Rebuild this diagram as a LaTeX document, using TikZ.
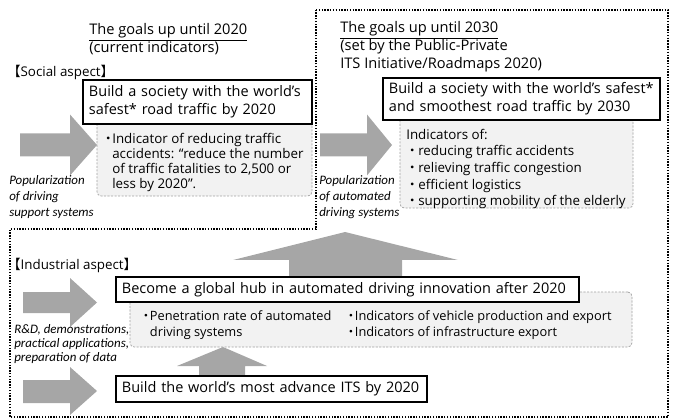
\documentclass[tikz,border=0pt]{standalone}
\usepackage{fontspec}
\setmainfont{Open Sans}
\newfontfamily\cjk{Noto Sans CJK JP}
\newfontfamily\narrowit{Carlito}
\usepackage{tikz}
\usetikzlibrary{fit}

\definecolor{arrowgray}{HTML}{A6A6A6}
\definecolor{panelgray}{HTML}{F2F2F2}
\definecolor{panelline}{HTML}{A0A0A0}

% bullet dots of the indicator lists
\newcommand{\dotmark}{\makebox[0.6em]{\cjk ・}}
\newcommand{\dotpad}{\makebox[0.6em]{}}
\newcommand{\widedot}{\makebox[0.9em]{\cjk ・}}

\begin{document}
\begin{tikzpicture}[
    x=0.025cm, y=-0.025cm,
    goal/.style={draw, line width=0.8pt, fill=white, align=left,
                 inner xsep=0.15cm, inner ysep=0pt,
                 font=\fontsize{10.3}{12.8}\selectfont},
    panel/.style={draw=panelline, fill=panelgray, line width=0.5pt,
                  dash pattern=on 1.5pt off 1pt, rounded corners=3pt, inner sep=0pt},
    paneltxt/.style={anchor=north west, align=left, inner sep=0pt,
                     font=\fontsize{9.5}{10.7}\selectfont},
    heading/.style={anchor=north west, align=left, inner sep=0pt,
                    font=\fontsize{10.4}{13}\selectfont},
    note/.style={anchor=north west, align=left, inner sep=0pt,
                 font=\narrowit\itshape\fontsize{9.2}{11.5}\selectfont},
    fat/.style={fill=arrowgray},
    zone/.style={line width=1pt, dash pattern=on 1pt off 1pt},
  ]
    \useasboundingbox (0,0) rectangle (673,420);

    % dotted outline round the 2030 goals
    \draw[zone] (316,10) -- (668,10) -- (668,417) -- (10,417) -- (10,229) -- (316,229) -- cycle;

    % block arrows
    \fill[fat] (20,133.5) -- (70,133.5) -- (70,114.5) -- (97,145) -- (70,175.5) -- (70,156.5) -- (20,156.5) -- cycle;
    \fill[fat] (320,133.5) -- (367,133.5) -- (367,114.5) -- (392,145) -- (367,175.5) -- (367,156.5) -- (320,156.5) -- cycle;
    \fill[fat] (23,292) -- (70,292) -- (70,278) -- (97,302.5) -- (70,327) -- (70,313) -- (23,313) -- cycle;
    \fill[fat] (23,380) -- (70,380) -- (70,367) -- (97,391) -- (70,415) -- (70,403) -- (23,403) -- cycle;
    \fill[fat] (289,285) -- (289,260) -- (233,260) -- (345,232) -- (458,260) -- (402,260) -- (402,285) -- cycle;
    \fill[fat] (199,380) -- (199,366) -- (177,366) -- (223,347) -- (267,366) -- (245,366) -- (245,380) -- cycle;

    % headings
    \node[heading] (goalA) at (89,23) {\underline{The goals up until 2020}\\(current indicators)};
    \node[heading] (goalB) at (340,21) {\underline{The goals up until 2030}\\(set by the Public-Private\\ITS Initiative/Roadmaps 2020)};
    \node[heading, anchor=west, font=\fontsize{9.5}{12}\selectfont] (social) at (7,72) {{\cjk 【}Social aspect{\cjk 】}};
    \node[heading, anchor=west, font=\fontsize{9.5}{12}\selectfont] (industrial) at (7,265) {{\cjk 【}Industrial aspect{\cjk 】}};

    % indicator panels
    \node[panel, fit={(97,118) (312,196)}] (panA) {};
    \node[panel, fit={(400,115) (633,208)}] (panB) {};
    \node[panel, fit={(130,292) (632,347)}] (panC) {};

    \node[paneltxt] (txtA) at (104,133) {\dotmark Indicator of reducing traffic\\
      \dotpad accidents: “reduce the number\\
      \dotpad of traffic fatalities to 2,500 or\\
      \dotpad less by 2020”.};
    \node[paneltxt, font=\fontsize{9.5}{11.9}\selectfont] (txtB) at (406,128.5) {Indicators of:\\
      \widedot reducing traffic accidents\\
      \widedot relieving traffic congestion\\
      \widedot efficient logistics\\
      \widedot supporting mobility of the elderly};
    \node[paneltxt, font=\fontsize{9.1}{11.7}\selectfont] (txtC1) at (142,310) {\dotmark Penetration rate of automated\\
      \dotpad driving systems};
    \node[paneltxt, font=\fontsize{9.1}{11.7}\selectfont] (txtC2) at (347,310) {\dotmark Indicators of vehicle production and export\\
      \dotmark Indicators of infrastructure export};

    % goal boxes
    \node[goal, text width=5.425cm, minimum height=1.1cm] (safe20) at (197.5,102) {Build a society with the world’s\\safest* road traffic by 2020};
    \node[goal, text width=6.625cm, minimum height=1.05cm] (safe30) at (521.5,99) {Build a society with the world’s safest*\\and smoothest road traffic by 2030};
    \node[goal, text width=11.275cm, minimum height=0.625cm] (hub) at (347.5,289.5) {Become a global hub in automated driving innovation after 2020};
    \node[goal, text width=7.475cm, minimum height=0.65cm] (its) at (271.5,389) {Build the world’s most advance ITS by 2020};

    % labels under the arrows
    \node[note] (popA) at (9,175) {Popularization\\of driving\\support systems};
    \node[note] (popB) at (319,175) {Popularization\\of automated\\driving systems};
    \node[note, font=\narrowit\itshape\fontsize{9.2}{10}\selectfont] (rnd) at (14,324) {R\&D, demonstrations,\\practical applications,\\preparation of data};
  \end{tikzpicture}
\end{document}
